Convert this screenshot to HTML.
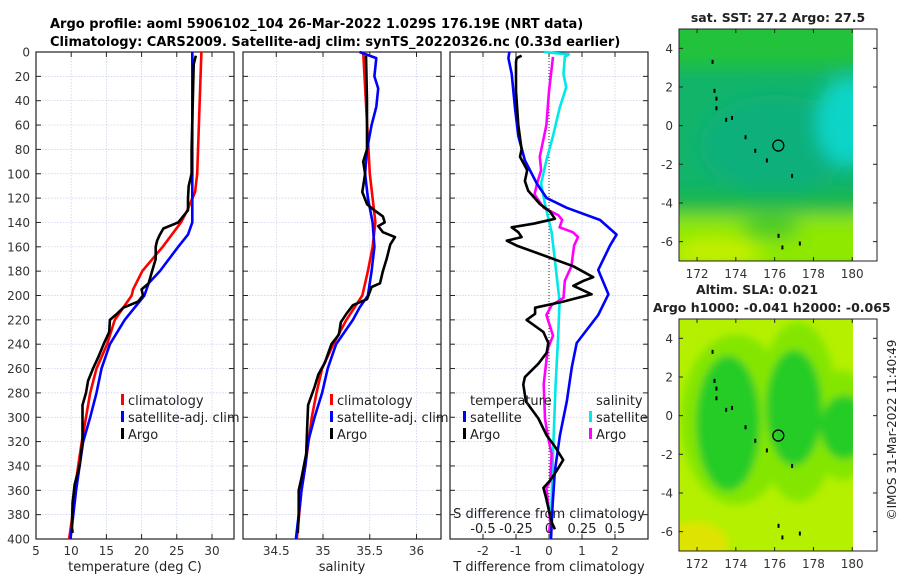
<!DOCTYPE html>
<html><head><meta charset="utf-8"><style>
html,body{margin:0;padding:0;background:#fff;}
svg{display:block;font-family:"DejaVu Sans","Liberation Sans",sans-serif;}
</style></head><body>
<svg id="chart" width="900" height="580" viewBox="0 0 900 580" xmlns="http://www.w3.org/2000/svg">
<defs>
<filter id="blur6" x="-50%" y="-50%" width="200%" height="200%"><feGaussianBlur stdDeviation="4"/></filter>
<filter id="blur10" x="-50%" y="-50%" width="200%" height="200%"><feGaussianBlur stdDeviation="9"/></filter>
<clipPath id="clipTop"><rect x="679" y="29" width="174" height="232"/></clipPath>
<clipPath id="clipBot"><rect x="679" y="319" width="174" height="232"/></clipPath>
</defs>
<text x="50" y="28" font-size="13" font-weight="bold">Argo profile: aoml 5906102_104 26-Mar-2022 1.029S 176.19E (NRT data)</text>
<text x="50" y="46" font-size="13" font-weight="bold">Climatology: CARS2009. Satellite-adj clim: synTS_20220326.nc (0.33d earlier)</text>
<g id="layer"></g>
</svg>
<script>
// ---------- data ----------
const depthTicks = [0,20,40,60,80,100,120,140,160,180,200,220,240,260,280,300,320,340,360,380,400];
const tempTicks = [5,10,15,20,25,30];
const salTicks = [34.5,35,35.5,36];
const tdiffTicks = [-2,-1,0,1,2];
const sdiffTicks = [-0.5,-0.25,0,0.25,0.5];
const sdiffTickLabels = ["-0.5","-0.25","0","0.25","0.5"];

const climTempDepth = [0,50,100,115,130,140,160,180,195,200,220,240,260,280,300,320,340,360,380,400];
const climTemp      = [28.5,28.2,27.9,27.6,26.5,25.6,23.0,20.1,18.8,18.6,16.2,15.1,13.6,12.7,12.1,11.5,11.0,10.5,10.2,9.7];
const satTempDepth  = [0,140,150,160,180,190,200,220,240,260,280,300,320,340,360,380,400];
const satTemp       = [27.2,27.2,26.6,25.2,22.6,21.0,20.4,17.6,15.5,14.3,13.6,12.7,11.7,11.2,10.7,10.3,9.9];
const argoTempDepth = [3,10,80,100,110,120,130,140,145,150,155,160,170,180,190,195,200,205,210,215,220,230,240,250,260,270,280,290,320,340,355,370,390,395];
const argoTemp      = [27.7,27.4,27.1,27.1,26.7,26.6,26.6,25.2,23.1,22.6,22.2,22.0,22.0,21.5,21.0,20.0,20.2,19.5,17.4,16.5,15.5,15.4,14.6,13.9,13.1,12.4,12.1,11.6,11.6,11.2,10.5,10.2,10.1,10.2];

const climSalDepth = [0,100,140,160,180,200,220,240,260,280,300,340,360,400];
const climSal      = [35.43,35.50,35.56,35.53,35.48,35.42,35.25,35.11,34.99,34.93,34.88,34.81,34.77,34.72];
const satSalDepth  = [0,5,20,30,45,60,80,100,120,140,160,180,200,210,220,240,260,280,300,320,340,360,380,400];
const satSal       = [35.39,35.57,35.55,35.59,35.57,35.52,35.47,35.45,35.48,35.53,35.55,35.52,35.48,35.39,35.32,35.14,35.05,34.99,34.91,34.84,34.81,34.77,34.74,34.71];
const argoSalDepth = [3,40,80,90,100,115,125,130,135,140,143,148,152,158,170,180,190,193,197,203,208,215,222,232,240,255,265,275,290,310,330,350,360,380,395];
const argoSal      = [35.46,35.47,35.47,35.43,35.45,35.42,35.47,35.55,35.64,35.66,35.59,35.64,35.77,35.72,35.68,35.64,35.61,35.52,35.50,35.47,35.32,35.25,35.19,35.17,35.09,35.02,34.95,34.91,34.84,34.83,34.82,34.77,34.74,34.74,34.73];

const satTdiffDepth = [0,5,18,46,69,89,108,120,128,138,150,159,179,199,216,239,259,287,315,344,372,400];
const satTdiff      = [-1.2,-1.23,-1.13,-1.03,-0.93,-0.73,-0.37,-0.07,0.54,1.55,2.05,1.85,1.49,1.8,1.49,0.84,0.69,0.54,0.33,0.18,0.11,0.06];
const argoTdiffDepth = [3,5,8,32,60,80,86,97,106,114,125,131,137,141,144,148,152,155,159,168,176,185,188,192,199,205,210,215,220,230,239,247,256,267,273,287,301,315,324,335,344,352,358,366,386,392];
const argoTdiff      = [-0.83,-0.98,-1.0,-1.0,-0.93,-0.83,-0.88,-0.66,-0.73,-0.63,-0.27,0.03,0.18,-0.47,-1.13,-0.93,-0.83,-1.28,-0.98,-0.07,0.74,1.34,1.04,0.74,1.29,0.43,-0.42,-0.42,-0.68,-0.17,-0.02,-0.07,-0.32,-0.73,-0.78,-0.7,-0.32,-0.07,0.18,0.43,0.23,0.03,-0.17,-0.09,0.08,0.18];
const satSdiffDepth = [0,2,4,18,29,46,69,89,108,125,148,176,205,233,273,330,386,400];
const satSdiff      = [-0.04,0.15,0.12,0.11,0.13,0.08,0.03,-0.02,-0.06,-0.03,0.02,0.05,0.08,0.07,0.05,0.03,0.015,0.012];
const argoSdiffDepth = [4,32,60,86,97,108,117,128,134,138,144,148,152,159,176,188,202,208,216,233,244,273,301,315,330,352,358,386,395];
const argoSdiff      = [0.03,0.0,-0.02,-0.07,-0.06,-0.09,-0.11,-0.04,0.07,0.1,0.08,0.18,0.22,0.19,0.17,0.12,0.11,0.02,-0.02,0.03,-0.01,-0.04,-0.03,-0.01,0.02,0.01,-0.02,0.01,0.0];

const lonTicks = [172,174,176,178,180];
const latTicks = [4,2,0,-2,-4,-6];
const floatLon = 176.19, floatLat = -1.029;

// ---------- helpers ----------
const NS = "http://www.w3.org/2000/svg";
const layer = document.getElementById('layer');
function mk(tag, attrs, parent){ const e=document.createElementNS(NS,tag); for(const k in attrs) e.setAttribute(k,attrs[k]); (parent||layer).appendChild(e); return e; }
const TOP=52, BOT=539;
const yDepth = d => TOP + d*(BOT-TOP)/400;
const panels = [
  {x0:36,  x1:234, vmin:5,    vmax:33.13},
  {x0:243, x1:441, vmin:34.144, vmax:36.262},
  {x0:450, x1:648, vmin:-3,   vmax:3}
];
const xT = v => panels[0].x0 + (v-panels[0].vmin)*(panels[0].x1-panels[0].x0)/(panels[0].vmax-panels[0].vmin);
const xS = v => panels[1].x0 + (v-panels[1].vmin)*(panels[1].x1-panels[1].x0)/(panels[1].vmax-panels[1].vmin);
const xDT = v => panels[2].x0 + (v-panels[2].vmin)*(panels[2].x1-panels[2].x0)/(panels[2].vmax-panels[2].vmin);
const xDS = v => 549 + v*132;

function drawPanel(p, xf, ticks, labels, idx){
  const g = mk('g',{});
  
  
  ticks.forEach(t=>{ const l=mk('line',{x1:xf(t),x2:xf(t),y1:TOP,y2:BOT,stroke:'#c4cdea','stroke-width':0.7,'stroke-dasharray':'1.5,1.5'},g);
      });
  depthTicks.forEach(d=>{ const l=mk('line',{x1:p.x0,x2:p.x1,y1:yDepth(d),y2:yDepth(d),stroke:'#c4cdea','stroke-width':0.7,'stroke-dasharray':'1.5,1.5'},g);
     
    mk('line',{x1:p.x0,x2:p.x0+5,y1:yDepth(d),y2:yDepth(d),stroke:'#222'},g);
    mk('line',{x1:p.x1-5,x2:p.x1,y1:yDepth(d),y2:yDepth(d),stroke:'#222'},g); });
  ticks.forEach((t,i)=>{ mk('line',{x1:xf(t),x2:xf(t),y1:BOT,y2:BOT-5,stroke:'#222'},g);
    mk('line',{x1:xf(t),x2:xf(t),y1:TOP,y2:TOP+5,stroke:'#222'},g);
    const tx=mk('text',{x:xf(t),y:555,'font-size':12,'text-anchor':'middle',fill:'#333'},g); tx.textContent=labels[i];
      });
  const r=mk('rect',{x:p.x0,y:TOP,width:p.x1-p.x0,height:BOT-TOP,fill:'none',stroke:'#222','stroke-width':1.2},g);
   
}
drawPanel(panels[0], xT, tempTicks, tempTicks.map(String), 'temperature');
drawPanel(panels[1], xS, salTicks, salTicks.map(String), 'salinity');
drawPanel(panels[2], xDT, tdiffTicks, tdiffTicks.map(String), 'difference');

depthTicks.forEach(d=>{ const t=mk('text',{x:30,y:yDepth(d)+4.5,'font-size':12,'text-anchor':'end',fill:'#333'}); t.textContent=d;
    });

const zl = mk('line',{x1:xDT(0),x2:xDT(0),y1:TOP,y2:BOT,stroke:'#333','stroke-width':1,'stroke-dasharray':'1,2'});
 

function line(depths, vals, xf, color, name){
  const pts = depths.map((d,i)=>xf(vals[i]).toFixed(1)+','+yDepth(d).toFixed(1)).join(' ');
  const pl = mk('polyline',{points:pts,fill:'none',stroke:color,'stroke-width':2.6,'stroke-linejoin':'round'});
  
  
}
line(climTempDepth, climTemp, xT, '#ff0000', 'climatology-temperature-line');
line(satTempDepth, satTemp, xT, '#0000ff', 'satellite-temperature-line');
line(argoTempDepth, argoTemp, xT, '#000000', 'argo-temperature-line');
line(climSalDepth, climSal, xS, '#ff0000', 'climatology-salinity-line');
line(satSalDepth, satSal, xS, '#0000ff', 'satellite-salinity-line');
line(argoSalDepth, argoSal, xS, '#000000', 'argo-salinity-line');
line(satSdiffDepth, satSdiff, xDS, '#00e8e8', 'satellite-salinity-diff-line');
line(argoSdiffDepth, argoSdiff, xDS, '#ff00ff', 'argo-salinity-diff-line');
line(satTdiffDepth, satTdiff, xDT, '#0000ff', 'satellite-temperature-diff-line');
line(argoTdiffDepth, argoTdiff, xDT, '#000000', 'argo-temperature-diff-line');

function txt(x,y,s,opts,name){ const t=mk('text',Object.assign({x:x,y:y,'font-size':13,fill:'#222'},opts||{})); t.textContent=s;
    return t; }
function legEntry(mx, y, color, label, name){
  const m=mk('rect',{x:mx,y:y-11,width:3,height:11,fill:color});  
  txt(mx+7,y,label,{},name);
}
legEntry(121,405,'#ff0000','climatology','legend-climatology');
legEntry(121,422,'#0000ff','satellite-adj. clim','legend-satellite-adj');
legEntry(121,439,'#000000','Argo','legend-argo');
legEntry(330,405,'#ff0000','climatology','legend-climatology-sal');
legEntry(330,422,'#0000ff','satellite-adj. clim','legend-satellite-adj-sal');
legEntry(330,439,'#000000','Argo','legend-argo-sal');
txt(470,405,'temperature',{},'legend-temperature-header');
txt(596,405,'salinity',{},'legend-salinity-header');
legEntry(463,422,'#0000ff','satellite','legend-temp-satellite');
legEntry(463,439,'#000000','Argo','legend-temp-argo');
legEntry(589,422,'#00e8e8','satellite','legend-sal-satellite');
legEntry(589,439,'#ff00ff','Argo','legend-sal-argo');

txt(549,518,'S difference from climatology',{'text-anchor':'middle'},'s-diff-axis-title');
sdiffTicks.forEach((v,i)=>txt(xDS(v),533,sdiffTickLabels[i],{'text-anchor':'middle'},'s-diff-tick-label'));
txt(135,571,'temperature (deg C)',{'text-anchor':'middle'},'x-axis-title-temperature');
txt(342,571,'salinity',{'text-anchor':'middle'},'x-axis-title-salinity');
txt(549,571,'T difference from climatology',{'text-anchor':'middle'},'x-axis-title-difference');

// ---------- maps ----------
const MX0=679, MXD=853, MX1=877;
const lonX = lon => MX0 + (lon-171.07)*19.4;
function mapFrame(y0, name, fields){
  const latY = lat => y0 + (5-lat)*19.33;
  const g = mk('g',{'clip-path':'url(#'+(y0<100?'clipTop':'clipBot')+')'});
   
  fields(g, latY);
  const isl=[[172.8,3.3],[172.9,1.8],[173.0,1.4],[173.0,0.9],[173.5,0.3],[173.8,0.4],[174.5,-0.6],[175.0,-1.3],[175.6,-1.8],[176.9,-2.6],[176.2,-5.7],[176.4,-6.3],[177.3,-6.1]];
  isl.forEach(p=>{ const c=mk('rect',{x:lonX(p[0])-1,y:latY(p[1])-2,width:2,height:4,fill:'#000'});   });
  const fc=mk('circle',{cx:lonX(floatLon),cy:latY(floatLat),r:5.5,fill:'none',stroke:'#000','stroke-width':1.3});
   
  const fr=mk('rect',{x:MX0,y:y0,width:MX1-MX0,height:232,fill:'none',stroke:'#222','stroke-width':1});
   
  lonTicks.forEach(l=>{ mk('line',{x1:lonX(l),x2:lonX(l),y1:y0,y2:y0+4,stroke:'#222'}); mk('line',{x1:lonX(l),x2:lonX(l),y1:y0+232,y2:y0+228,stroke:'#222'});
    const t=mk('text',{x:lonX(l),y:y0+249,'font-size':12,'text-anchor':'middle',fill:'#333'}); t.textContent=l;
      });
  latTicks.forEach(l=>{ mk('line',{x1:MX0,x2:MX0+4,y1:latY(l),y2:latY(l),stroke:'#222'}); mk('line',{x1:MX1,x2:MX1-4,y1:latY(l),y2:latY(l),stroke:'#222'});
    const t=mk('text',{x:673,y:latY(l)+4.5,'font-size':12,'text-anchor':'end',fill:'#333'}); t.textContent=l;
      });
}
mapFrame(29,'sst-map',(g,latY)=>{
  mk('rect',{x:MX0,y:29,width:MXD-MX0,height:232,fill:'#12b46a'},g);
  const b=mk('g',{filter:'url(#blur10)'},g);
  mk('rect',{x:MX0-20,y:10,width:220,height:latY(3.0)-10,fill:'#22c23a'},b);
  mk('ellipse',{cx:lonX(176),cy:latY(-1),rx:75,ry:50,fill:'#10b07a'},b);
  mk('ellipse',{cx:lonX(179.8),cy:latY(0.2),rx:32,ry:45,fill:'#10d4c8'},b);
  mk('rect',{x:MX0-20,y:latY(-3.5),width:220,height:22,fill:'#18b848'},b);
  mk('rect',{x:MX0-20,y:latY(-4.6),width:220,height:60,fill:'#8ee800'},b);
  mk('ellipse',{cx:lonX(173),cy:latY(-6.6),rx:45,ry:15,fill:'#c4f000'},b);
  mk('ellipse',{cx:lonX(175.8),cy:latY(-5.3),rx:30,ry:10,fill:'#3cc828'},b);
});
mapFrame(319,'sla-map',(g,latY)=>{
  mk('rect',{x:MX0,y:319,width:MXD-MX0,height:232,fill:'#b4f000'},g);
  const b=mk('g',{filter:'url(#blur6)'},g);
  mk('ellipse',{cx:lonX(174),cy:latY(-0.2),rx:55,ry:85,fill:'#84e600'},b);
  mk('ellipse',{cx:lonX(177.2),cy:latY(0.2),rx:40,ry:90,fill:'#84e600'},b);
  mk('ellipse',{cx:lonX(179.5),cy:latY(-0.5),rx:30,ry:55,fill:'#84e600'},b);
  mk('ellipse',{cx:lonX(173.6),cy:latY(-0.4),rx:32,ry:68,fill:'#26cc28'},b);
  mk('ellipse',{cx:lonX(177),cy:latY(0.4),rx:28,ry:58,fill:'#26cc28'},b);
  mk('ellipse',{cx:lonX(179.6),cy:latY(-0.6),rx:24,ry:32,fill:'#26cc28'},b);
  mk('ellipse',{cx:lonX(171.8),cy:latY(-6.6),rx:35,ry:22,fill:'#dee400'},b);
});
txt(778,22,'sat. SST: 27.2 Argo: 27.5',{'font-size':12.5,'font-weight':'bold','text-anchor':'middle'},'sst-map-title');
txt(757,294,'Altim. SLA: 0.021',{'font-size':12.5,'font-weight':'bold','text-anchor':'middle'},'sla-map-title-line1');
txt(653,312,'Argo h1000: -0.041 h2000: -0.065',{'font-size':12.5,'font-weight':'bold'},'sla-map-title-line2');
txt(896,430,'©IMOS 31-Mar-2022 11:40:49',{'font-size':12,'text-anchor':'middle',transform:'rotate(-90 896 430)'},'copyright-timestamp');
</script>
</body></html>
